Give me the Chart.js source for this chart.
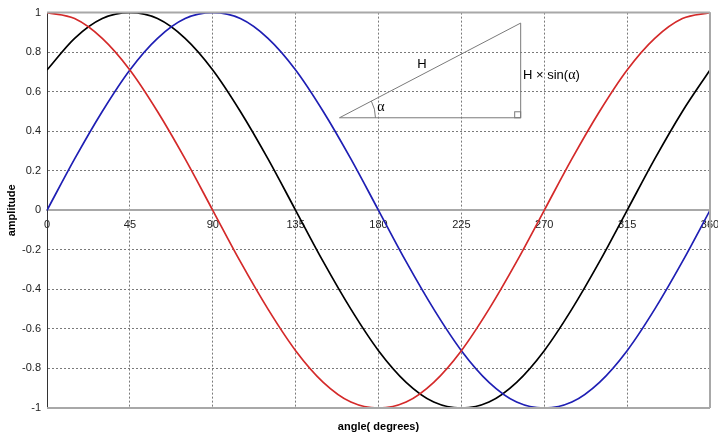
<!DOCTYPE html>
<html>
<head>
<meta charset="utf-8">
<title>sine waves</title>
<script src="https://cdn.jsdelivr.net/npm/chart.js@4/dist/chart.umd.min.js"></script>
<style>
  body { margin: 0; background: #fff; }
  #wrap { width: 718px; height: 436px; }
</style>
</head>
<body>
<div id="wrap"><canvas id="waves" width="718" height="436"></canvas></div>
<script>
// angle in degrees, values every 15 degrees
var angles = [0, 15, 30, 45, 60, 75, 90, 105, 120, 135, 150, 165, 180,
              195, 210, 225, 240, 255, 270, 285, 300, 315, 330, 345, 360];
var sineVals = [0, 0.26, 0.5, 0.71, 0.87, 0.97, 1, 0.97, 0.87, 0.71, 0.5, 0.26, 0,
                -0.26, -0.5, -0.71, -0.87, -0.97, -1, -0.97, -0.87, -0.71, -0.5, -0.26, 0];
var cosineVals = [1, 0.97, 0.87, 0.71, 0.5, 0.26, 0, -0.26, -0.5, -0.71, -0.87, -0.97, -1,
                  -0.97, -0.87, -0.71, -0.5, -0.26, 0, 0.26, 0.5, 0.71, 0.87, 0.97, 1];
var shiftedVals = [0.71, 0.87, 0.97, 1, 0.97, 0.87, 0.71, 0.5, 0.26, 0, -0.26, -0.5, -0.71,
                   -0.87, -0.97, -1, -0.97, -0.87, -0.71, -0.5, -0.26, 0, 0.26, 0.5, 0.71];
var xTicks = [0, 45, 90, 135, 180, 225, 270, 315, 360];

function points(vals) {
  return vals.map((v, i) => ({ x: angles[i], y: v }));
}

// frame lines + the right triangle sketch
var extras = {
  id: 'extras',
  afterDatasetsDraw(chart) {
    const ctx = chart.ctx, x = chart.scales.x, y = chart.scales.y;
    const a = chart.chartArea;
    ctx.save();
    ctx.strokeStyle = '#a8a8a8';
    ctx.lineWidth = 2;
    ctx.beginPath();
    ctx.moveTo(a.left, a.top); ctx.lineTo(a.right, a.top);
    ctx.moveTo(a.left, a.bottom); ctx.lineTo(a.right, a.bottom);
    ctx.moveTo(a.right, a.top); ctx.lineTo(a.right, a.bottom);
    ctx.stroke();

    // triangle (data coords)
    const x0 = x.getPixelForValue(158.8), x1 = x.getPixelForValue(257.2);
    const yb = y.getPixelForValue(0.468), yt = y.getPixelForValue(0.947);
    ctx.strokeStyle = '#7a7a7a';
    ctx.lineWidth = 1;
    ctx.beginPath();
    ctx.moveTo(x0, yb); ctx.lineTo(x1, yb); ctx.lineTo(x1, yt); ctx.closePath();
    ctx.stroke();
    ctx.strokeRect(x1 - 6, yb - 6, 6, 6);
    const ang = Math.atan2(yb - yt, x1 - x0);
    ctx.beginPath();
    ctx.arc(x0, yb, 36, -ang, 0);
    ctx.stroke();

    ctx.fillStyle = '#000';
    ctx.textBaseline = 'middle';
    ctx.textAlign = 'center';
    ctx.font = '13px Arial, "Liberation Sans", sans-serif';
    ctx.fillText('H', 422, 64);
    ctx.font = '14px "Liberation Serif", "DejaVu Serif", serif';
    ctx.fillText('\u03B1', 381, 107);
    ctx.textAlign = 'left';
    ctx.font = '13px Arial, "Liberation Sans", sans-serif';
    ctx.fillText('H \u00D7 sin(', 523, 75);
    const w = ctx.measureText('H \u00D7 sin(').width;
    ctx.font = '14px "Liberation Serif", "DejaVu Serif", serif';
    ctx.fillText('\u03B1', 523 + w, 75);
    const w2 = ctx.measureText('\u03B1').width;
    ctx.font = '13px Arial, "Liberation Sans", sans-serif';
    ctx.fillText(')', 523 + w + w2, 75);

    ctx.font = 'bold 11px Arial, "Liberation Sans", sans-serif';
    ctx.textAlign = 'center';
    ctx.fillText('angle( degrees)', (a.left + a.right) / 2, 427);
    ctx.restore();
  }
};

var lineOpts = { borderWidth: 1.7, pointRadius: 0, cubicInterpolationMode: 'monotone', fill: false };
var tickFont = { family: 'Arial, "Liberation Sans"', size: 11 };

var wavesChart = new Chart(document.getElementById('waves'), {
  type: 'line',
  data: {
    datasets: [
      Object.assign({ label: 'cos', data: points(cosineVals), borderColor: '#d42a2a' }, lineOpts),
      Object.assign({ label: 'sin', data: points(sineVals), borderColor: '#1f1fb4' }, lineOpts),
      Object.assign({ label: 'sin+45', data: points(shiftedVals), borderColor: '#000000' }, lineOpts)
    ]
  },
  options: {
    responsive: false,
    animation: false,
    layout: { padding: { top: 11, right: 8, bottom: 28, left: 0 } },
    plugins: { legend: { display: false }, tooltip: { enabled: false } },
    scales: {
      x: {
        type: 'linear',
        position: { y: 0 },
        min: 0, max: 360,
        afterBuildTicks: s => { s.ticks = xTicks.map(v => ({ value: v })); },
        afterFit: s => { s.paddingLeft = 0; s.paddingRight = 0; },
        ticks: { padding: 8, color: '#222', font: tickFont, maxRotation: 0 },
        grid: { color: '#7a7a7a', drawTicks: false, lineWidth: 1 },
        border: { color: '#a8a8a8', width: 2, dash: [2, 2] }
      },
      y: {
        min: -1, max: 1,
        afterFit: s => { s.width = 47; },
        ticks: { stepSize: 0.2, padding: 6, color: '#222', font: tickFont,
                 callback: v => String(+v.toFixed(1)) },
        grid: { color: '#7a7a7a', drawTicks: false, lineWidth: 1 },
        border: { color: '#333', width: 1, dash: [2, 2] },
        title: { display: true, text: 'amplitude', color: '#000', padding: 5,
                 font: { family: 'Arial, "Liberation Sans"', size: 11, weight: 'bold' } }
      }
    }
  },
  plugins: [extras]
});
</script>
</body>
</html>
